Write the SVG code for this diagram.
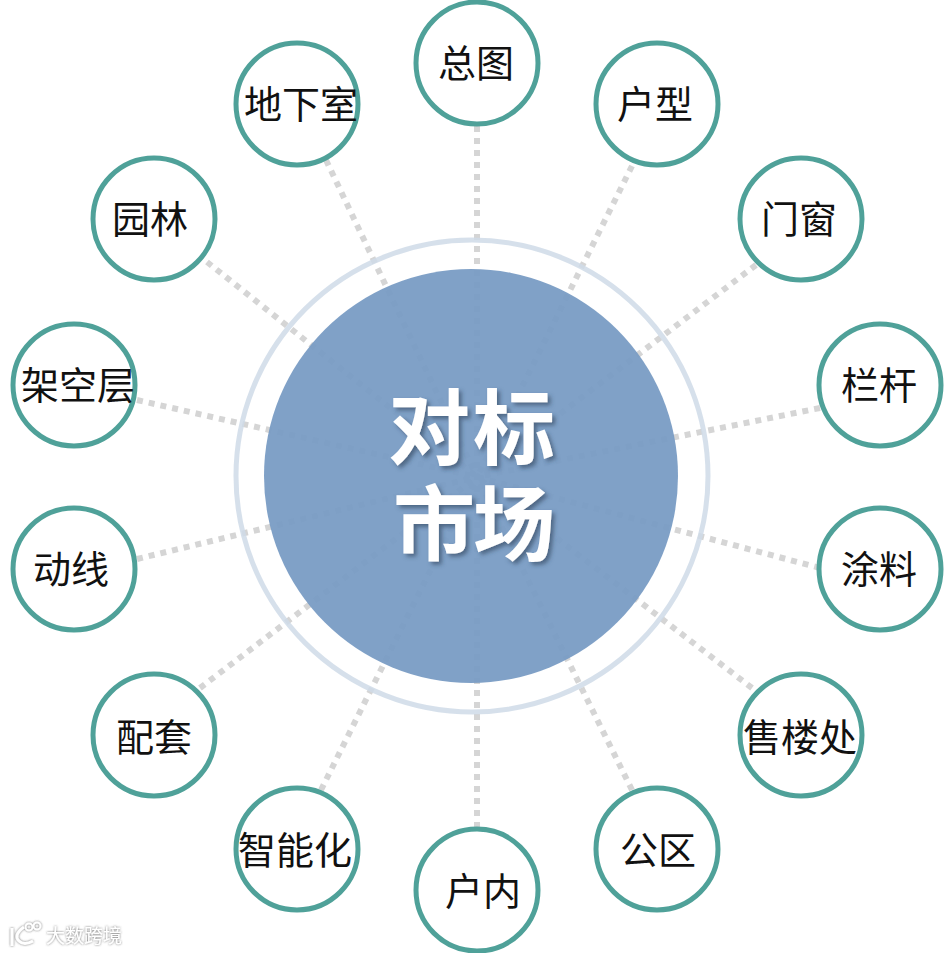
<svg xmlns="http://www.w3.org/2000/svg" width="944" height="953" viewBox="0 0 944 953">
<defs>
<filter id="sh" x="-20%" y="-20%" width="140%" height="140%"><feDropShadow dx="3" dy="3" stdDeviation="2" flood-color="#2b3f58" flood-opacity="0.6"/></filter>
<filter id="wm" x="-20%" y="-20%" width="140%" height="140%"><feDropShadow dx="0" dy="0" stdDeviation="1.2" flood-color="#555" flood-opacity="0.9"/></filter>
</defs>
<style>
.n circle{fill:#fff;stroke:#4fa199;stroke-width:5}
.n text{font-family:"Noto Sans CJK SC","Noto Sans",sans-serif;font-size:38px;fill:#111;text-anchor:middle}
#connectors line{stroke:#d5d5d5;stroke-width:6;stroke-dasharray:6 6}
.c{font-family:"Noto Sans CJK SC","Noto Sans",sans-serif;font-weight:700;font-size:82px;fill:#fff;filter:url(#sh)}
</style>
<rect width="944" height="953" fill="#fff"/>
<g id="connectors">
<line x1="477" y1="126" x2="477" y2="477"/>
<line x1="632" y1="166" x2="477" y2="477"/>
<line x1="756" y1="265" x2="477" y2="477"/>
<line x1="820" y1="408" x2="477" y2="477"/>
<line x1="820" y1="568" x2="477" y2="477"/>
<line x1="752" y1="688" x2="477" y2="477"/>
<line x1="632" y1="790" x2="477" y2="477"/>
<line x1="477" y1="828" x2="477" y2="477"/>
<line x1="321" y1="790" x2="477" y2="477"/>
<line x1="200" y1="688" x2="477" y2="477"/>
<line x1="137" y1="559" x2="477" y2="477"/>
<line x1="137" y1="400" x2="477" y2="477"/>
<line x1="207" y1="262" x2="477" y2="477"/>
<line x1="326" y1="160" x2="477" y2="477"/>
</g>
<g id="hub">
<circle cx="472" cy="476" r="236" fill="none" stroke="#cfdae7" stroke-width="5" stroke-opacity="0.85"/>
<circle cx="471" cy="476" r="207" fill="#789bc4" fill-opacity="0.94"/>
<text class="c" x="388" y="458" textLength="167">对标</text>
<text class="c" x="393" y="554" textLength="162">市场</text>
</g>
<g id="n1" class="n"><circle cx="477" cy="63" r="61"/><text x="476" y="77">总图</text></g>
<g id="n2" class="n"><circle cx="657" cy="104" r="61"/><text x="655" y="118">户型</text></g>
<g id="n3" class="n"><circle cx="801" cy="219" r="61"/><text x="799" y="233">门窗</text></g>
<g id="n4" class="n"><circle cx="880" cy="385" r="61"/><text x="879" y="399">栏杆</text></g>
<g id="n5" class="n"><circle cx="880" cy="569" r="61"/><text x="879" y="583">涂料</text></g>
<g id="n6" class="n"><circle cx="801" cy="735" r="61"/><text x="800" y="751">售楼处</text></g>
<g id="n7" class="n"><circle cx="657" cy="849" r="61"/><text x="658" y="864">公区</text></g>
<g id="n8" class="n"><circle cx="477" cy="890" r="61"/><text x="483" y="905">户内</text></g>
<g id="n9" class="n"><circle cx="297" cy="849" r="61"/><text x="295" y="864">智能化</text></g>
<g id="n10" class="n"><circle cx="154" cy="735" r="61"/><text x="154" y="751">配套</text></g>
<g id="n11" class="n"><circle cx="74" cy="569" r="61"/><text x="71" y="583">动线</text></g>
<g id="n12" class="n"><circle cx="74" cy="385" r="61"/><text x="78" y="399">架空层</text></g>
<g id="n13" class="n"><circle cx="154" cy="219" r="61"/><text x="150" y="233">园林</text></g>
<g id="n14" class="n"><circle cx="297" cy="104" r="61"/><text x="301" y="118">地下室</text></g>
<g id="watermark" filter="url(#wm)">
<path d="M12 928v18M24 927q-11 8-5 14q5 5 14 0" fill="none" stroke="#fff" stroke-width="3"/>
<circle cx="29" cy="927" r="3.5" fill="none" stroke="#fff" stroke-width="2"/>
<circle cx="37" cy="926" r="3.5" fill="none" stroke="#fff" stroke-width="2"/>
<text x="46" y="943" font-family="Noto Sans CJK SC,sans-serif" font-size="19" fill="#fff">大数跨境</text>
</g>
</svg>
